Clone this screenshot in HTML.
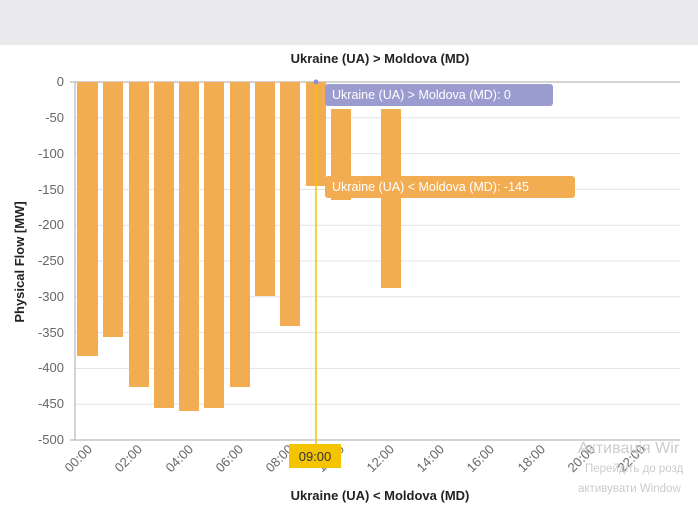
<!DOCTYPE html><html><head><style>body{margin:0;background:#fff;font-family:"Liberation Sans",sans-serif}</style></head><body>
<svg width="698" height="511" xmlns="http://www.w3.org/2000/svg" font-family="Liberation Sans, sans-serif">
<rect x="0" y="0" width="698" height="45" fill="#e9e9eb"/>
<text x="380" y="63" font-size="13" font-weight="bold" text-anchor="middle" fill="#222">Ukraine (UA) &gt; Moldova (MD)</text>
<text x="380" y="500" font-size="13" font-weight="bold" text-anchor="middle" fill="#222">Ukraine (UA) &lt; Moldova (MD)</text>
<text transform="translate(24,262) rotate(-90)" font-size="13" font-weight="bold" text-anchor="middle" fill="#222">Physical Flow [MW]</text>
<g stroke="#e3e3e3" stroke-width="1">
<line x1="75" x2="680" y1="117.8" y2="117.8"/><line x1="75" x2="680" y1="153.6" y2="153.6"/><line x1="75" x2="680" y1="189.4" y2="189.4"/><line x1="75" x2="680" y1="225.2" y2="225.2"/><line x1="75" x2="680" y1="261" y2="261"/><line x1="75" x2="680" y1="296.8" y2="296.8"/><line x1="75" x2="680" y1="332.6" y2="332.6"/><line x1="75" x2="680" y1="368.4" y2="368.4"/><line x1="75" x2="680" y1="404.2" y2="404.2"/>
</g>
<line x1="70" x2="680" y1="82" y2="82" stroke="#aaa"/>
<line x1="70" x2="680" y1="440" y2="440" stroke="#aaa"/>
<line x1="75" x2="75" y1="82" y2="440" stroke="#aaa"/>
<g font-size="13" fill="#666" text-anchor="end">
<text x="64" y="86">0</text><text x="64" y="122">-50</text><text x="64" y="158">-100</text><text x="64" y="194">-150</text><text x="64" y="229">-200</text><text x="64" y="265">-250</text><text x="64" y="301">-300</text><text x="64" y="337">-350</text><text x="64" y="372">-400</text><text x="64" y="408">-450</text><text x="64" y="444">-500</text>
</g>
<g fill="#f2ad52">
<rect x="77" y="82" width="21" height="274"/>
<rect x="103" y="82" width="20" height="255"/>
<rect x="129" y="82" width="20" height="305"/>
<rect x="154" y="82" width="20" height="326"/>
<rect x="179" y="82" width="20" height="329"/>
<rect x="204" y="82" width="20" height="326"/>
<rect x="230" y="82" width="20" height="305"/>
<rect x="255" y="82" width="20" height="214"/>
<rect x="280" y="82" width="20" height="244"/>
<rect x="306" y="82" width="20" height="104"/>
<rect x="331" y="109" width="20" height="91"/>
<rect x="381" y="109" width="20" height="179"/>
</g>
<line x1="316" x2="316" y1="82" y2="450" stroke="#f5c400" stroke-width="1.5"/>
<circle cx="316" cy="82" r="2.5" fill="#8c8fd0"/>
<rect x="325" y="84" width="228" height="22" rx="3" fill="#9a9cd0"/>
<text x="332" y="99" font-size="12.5" fill="#fff">Ukraine (UA) &gt; Moldova (MD): 0</text>
<rect x="325" y="176" width="250" height="22" rx="3" fill="#f2ad52"/>
<text x="332" y="191" font-size="12.5" fill="#fff">Ukraine (UA) &lt; Moldova (MD): -145</text>
<g font-size="13" fill="#666" text-anchor="end">
<text transform="translate(93,450) rotate(-45)">00:00</text>
<text transform="translate(143,450) rotate(-45)">02:00</text>
<text transform="translate(194,450) rotate(-45)">04:00</text>
<text transform="translate(244,450) rotate(-45)">06:00</text>
<text transform="translate(294,450) rotate(-45)">08:00</text>
<text transform="translate(345,450) rotate(-45)">10:00</text>
<text transform="translate(395,450) rotate(-45)">12:00</text>
<text transform="translate(445,450) rotate(-45)">14:00</text>
<text transform="translate(495,450) rotate(-45)">16:00</text>
<text transform="translate(546,450) rotate(-45)">18:00</text>
<text transform="translate(596,450) rotate(-45)">20:00</text>
<text transform="translate(646,450) rotate(-45)">22:00</text>
</g>
<rect x="289" y="444" width="52" height="24" fill="#f5c400"/>
<text x="315" y="461" font-size="13" text-anchor="middle" fill="#333">09:00</text>
<text x="578" y="453" font-size="16" fill="#ccc">Активація Wir</text>
<text x="585" y="472" font-size="11.5" fill="#ccc">Перейдіть до розд</text>
<text x="578" y="492" font-size="11.5" fill="#ccc">активувати Window</text>
</svg></body></html>
